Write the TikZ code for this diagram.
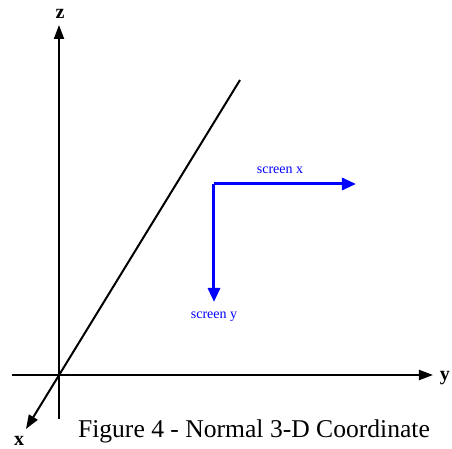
\documentclass[tikz,border=0pt]{standalone}
\usepackage{fontspec}
\setmainfont{Liberation Serif}
\usepackage{xcolor}
\usetikzlibrary{arrows.meta}

\begin{document}
\begin{tikzpicture}[x=0.5pt, y=-0.5pt,
    axis/.style={line width=1pt, -{Triangle[length=7pt, width=5pt]}},
    scraxis/.style={line width=1.5pt, blue, -{Triangle[length=7pt, width=6pt]}},
    axlabel/.style={font=\fontsize{10}{12}\selectfont\bfseries, inner sep=0pt},
    scrlabel/.style={font=\fontsize{7}{8}\selectfont, text=blue, inner sep=0pt}]
    \useasboundingbox (0,0) rectangle (452,449);
    % 3-D axes
    \coordinate (orig) at (59,375);
    \coordinate (zbot) at (59,419);
    \coordinate (ztop) at (59,25);
    \coordinate (yleft) at (12,375);
    \coordinate (yright) at (433,375);
    \coordinate (xfar) at (240,80);
    \coordinate (xnear) at (26,429);
    \node[axlabel] (zlab) at (60,14) {z};
    \node[axlabel] (ylab) at (445,378) {y};
    \node[axlabel] (xlab) at (19,441) {x};
    \draw[axis] (zbot) -- (ztop);
    \draw[axis] (yleft) -- (yright);
    \draw[axis] (xfar) -- (xnear);
    % screen axes
    \coordinate (corner) at (214,184);
    \coordinate (sxend) at (356,184);
    \coordinate (syend) at (214,302);
    \node[scrlabel] (sxlab) at (280,170) {screen x};
    \node[scrlabel] (sylab) at (214,317) {screen y};
    \draw[scraxis] (corner) -- (sxend);
    \draw[scraxis] (corner) -- (syend);
    % caption
    \node[font=\fontsize{12.8}{15}\selectfont, inner sep=0pt] (caption) at (254,431) {Figure 4 - Normal 3-D Coordinate};
\end{tikzpicture}
\end{document}
